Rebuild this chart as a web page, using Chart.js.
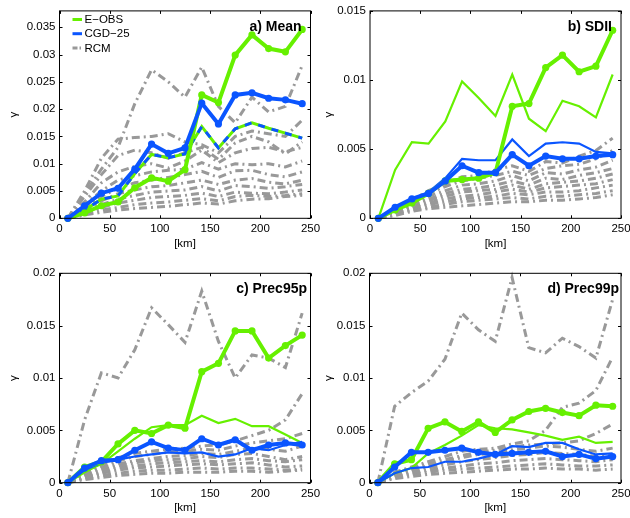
<!DOCTYPE html>
<html>
<head>
<meta charset="utf-8">
<script src="https://cdn.jsdelivr.net/npm/chart.js@4"></script>
<style>
html, body { margin: 0; padding: 0; background: #fff; overflow: hidden; width: 630px; height: 518px; }
canvas { position: absolute; }
</style>
</head>
<body>
<canvas id="chartMean" width="325" height="259" style="left:0;top:0"></canvas>
<canvas id="chartSdii" width="325" height="259" style="left:315px;top:0"></canvas>
<canvas id="chartP95" width="325" height="259" style="left:0;top:259px"></canvas>
<canvas id="chartP99" width="325" height="259" style="left:315px;top:259px"></canvas>
<script>
// distance bins [km]
const distKm = [8.3, 25, 41.7, 58.3, 75, 91.7, 108.3, 125, 141.7, 158.3, 175, 191.7, 208.3, 225, 241.7];
const xTicks = [0, 50, 100, 150, 200, 250];
const yTicksMean = [0, 0.005, 0.01, 0.015, 0.02, 0.025, 0.03, 0.035];
const yTicksSdii = [0, 0.005, 0.01, 0.015];
const yTicksPrec = [0, 0.005, 0.01, 0.015, 0.02];

// a) Mean
const meanEobs  = [0, 0.0010, 0.0023, 0.0030, 0.0056, 0.0074, 0.0068, 0.0089, 0.0226, 0.0212, 0.0299, 0.0336, 0.0311, 0.0305, 0.0346];
const meanCgd   = [0, 0.0023, 0.0046, 0.0055, 0.0090, 0.0136, 0.0119, 0.0129, 0.0211, 0.0173, 0.0226, 0.0230, 0.0220, 0.0217, 0.0210];
const meanMixed = [0, 0.0015, 0.0035, 0.0041, 0.0082, 0.0117, 0.0111, 0.0118, 0.0168, 0.0129, 0.0164, 0.0175, 0.0165, 0.0156, 0.0147];
const rcmMean = [
  [0, 0.0045, 0.0090, 0.0130, 0.0210, 0.0272, 0.0250, 0.0222, 0.0277, 0.0205, 0.0175, 0.0222, 0.0195, 0.0205, 0.0280],
  [0, 0.0050, 0.0110, 0.0145, 0.0148, 0.0150, 0.0155, 0.0140, 0.0135, 0.0120, 0.0150, 0.0160, 0.0155, 0.0150, 0.0180],
  [0, 0.0040, 0.0080, 0.0115, 0.0125, 0.0120, 0.0110, 0.0120, 0.0130, 0.0108, 0.0138, 0.0150, 0.0140, 0.0118, 0.0140],
  [0, 0.0030, 0.0065, 0.0085, 0.0095, 0.0100, 0.0092, 0.0105, 0.0125, 0.0102, 0.0120, 0.0128, 0.0130, 0.0122, 0.0130],
  [0, 0.0025, 0.0050, 0.0070, 0.0078, 0.0085, 0.0088, 0.0090, 0.0102, 0.0090, 0.0100, 0.0098, 0.0100, 0.0094, 0.0105],
  [0, 0.0020, 0.0040, 0.0055, 0.0065, 0.0070, 0.0075, 0.0080, 0.0086, 0.0075, 0.0087, 0.0088, 0.0080, 0.0076, 0.0085],
  [0, 0.0015, 0.0032, 0.0045, 0.0052, 0.0058, 0.0060, 0.0065, 0.0070, 0.0062, 0.0070, 0.0073, 0.0066, 0.0063, 0.0070],
  [0, 0.0012, 0.0025, 0.0035, 0.0042, 0.0048, 0.0050, 0.0052, 0.0058, 0.0050, 0.0060, 0.0058, 0.0055, 0.0058, 0.0062],
  [0, 0.0010, 0.0020, 0.0028, 0.0033, 0.0038, 0.0040, 0.0042, 0.0046, 0.0040, 0.0048, 0.0046, 0.0045, 0.0048, 0.0052],
  [0, 0.0008, 0.0015, 0.0020, 0.0025, 0.0028, 0.0030, 0.0033, 0.0036, 0.0032, 0.0040, 0.0042, 0.0040, 0.0042, 0.0045],
  [0, 0.0006, 0.0011, 0.0015, 0.0018, 0.0020, 0.0022, 0.0025, 0.0028, 0.0026, 0.0032, 0.0035, 0.0036, 0.0040, 0.0042]
];

// b) SDII
const sdiiEobs     = [0, 0.0006, 0.0011, 0.0018, 0.0027, 0.0028, 0.0029, 0.0033, 0.0081, 0.0083, 0.0109, 0.0118, 0.0106, 0.0110, 0.0136];
const sdiiEobsThin = [0, 0.0035, 0.0055, 0.0054, 0.0070, 0.0099, 0.0087, 0.0074, 0.0104, 0.0072, 0.0063, 0.0085, 0.0081, 0.0073, 0.0104];
const sdiiCgd      = [0, 0.0008, 0.0014, 0.0018, 0.0027, 0.0038, 0.0033, 0.0033, 0.0046, 0.0038, 0.0045, 0.0043, 0.0043, 0.0045, 0.0046];
const sdiiCgdThin  = [0, 0.0008, 0.0014, 0.0019, 0.0029, 0.0043, 0.0042, 0.0042, 0.0057, 0.0045, 0.0054, 0.0055, 0.0054, 0.0048, 0.0047];
const rcmSdii = [
  [0, 0.0006, 0.0013, 0.0020, 0.0025, 0.0030, 0.0031, 0.0035, 0.0038, 0.0034, 0.0041, 0.0040, 0.0045, 0.0049, 0.0058],
  [0, 0.0006, 0.0012, 0.0018, 0.0023, 0.0027, 0.0029, 0.0031, 0.0034, 0.0031, 0.0036, 0.0038, 0.0039, 0.0043, 0.0049],
  [0, 0.0005, 0.0011, 0.0016, 0.0020, 0.0024, 0.0025, 0.0027, 0.0031, 0.0027, 0.0033, 0.0032, 0.0035, 0.0037, 0.0042],
  [0, 0.0005, 0.0010, 0.0014, 0.0018, 0.0021, 0.0022, 0.0024, 0.0027, 0.0024, 0.0029, 0.0028, 0.0031, 0.0033, 0.0036],
  [0, 0.0004, 0.0009, 0.0013, 0.0016, 0.0019, 0.0020, 0.0021, 0.0024, 0.0021, 0.0025, 0.0026, 0.0027, 0.0029, 0.0032],
  [0, 0.0004, 0.0008, 0.0011, 0.0014, 0.0016, 0.0017, 0.0019, 0.0021, 0.0019, 0.0022, 0.0023, 0.0024, 0.0025, 0.0028],
  [0, 0.0003, 0.0007, 0.0010, 0.0012, 0.0014, 0.0015, 0.0016, 0.0018, 0.0017, 0.0019, 0.0019, 0.0020, 0.0022, 0.0024],
  [0, 0.0003, 0.0006, 0.0008, 0.0010, 0.0012, 0.0013, 0.0014, 0.0015, 0.0014, 0.0016, 0.0016, 0.0017, 0.0018, 0.0020],
  [0, 0.0002, 0.0005, 0.0007, 0.0008, 0.0009, 0.0010, 0.0011, 0.0012, 0.0012, 0.0013, 0.0013, 0.0014, 0.0015, 0.0017]
];

// c) Prec95p
const p95Eobs     = [0, 0.0015, 0.0020, 0.0037, 0.0050, 0.0047, 0.0055, 0.0052, 0.0106, 0.0114, 0.0145, 0.0145, 0.0119, 0.0131, 0.0141];
const p95EobsThin = [0, 0.0010, 0.0018, 0.0030, 0.0042, 0.0053, 0.0055, 0.0055, 0.0064, 0.0057, 0.0061, 0.0054, 0.0054, 0.0046, 0.0038];
const p95Cgd      = [0, 0.0014, 0.0021, 0.0022, 0.0031, 0.0039, 0.0033, 0.0031, 0.0042, 0.0036, 0.0041, 0.0031, 0.0036, 0.0038, 0.0036];
const p95CgdThin  = [0, 0.0012, 0.0019, 0.0022, 0.0025, 0.0027, 0.0029, 0.0028, 0.0029, 0.0025, 0.0027, 0.0033, 0.0031, 0.0036, 0.0039];
const rcmP95 = [
  [0, 0.0060, 0.0105, 0.0100, 0.0127, 0.0167, 0.0151, 0.0134, 0.0183, 0.0135, 0.0100, 0.0122, 0.0119, 0.0110, 0.0162],
  [0, 0.0010, 0.0018, 0.0024, 0.0028, 0.0030, 0.0032, 0.0033, 0.0035, 0.0036, 0.0040, 0.0045, 0.0050, 0.0060, 0.0085],
  [0, 0.0009, 0.0016, 0.0021, 0.0025, 0.0027, 0.0029, 0.0030, 0.0032, 0.0031, 0.0035, 0.0038, 0.0040, 0.0042, 0.0047],
  [0, 0.0008, 0.0014, 0.0018, 0.0021, 0.0023, 0.0025, 0.0026, 0.0028, 0.0027, 0.0030, 0.0033, 0.0032, 0.0030, 0.0035],
  [0, 0.0007, 0.0012, 0.0016, 0.0019, 0.0021, 0.0022, 0.0023, 0.0025, 0.0024, 0.0027, 0.0028, 0.0025, 0.0022, 0.0025],
  [0, 0.0006, 0.0010, 0.0014, 0.0016, 0.0018, 0.0019, 0.0020, 0.0021, 0.0020, 0.0022, 0.0023, 0.0021, 0.0020, 0.0022],
  [0, 0.0005, 0.0009, 0.0012, 0.0014, 0.0015, 0.0016, 0.0017, 0.0018, 0.0017, 0.0018, 0.0019, 0.0017, 0.0015, 0.0016],
  [0, 0.0004, 0.0007, 0.0009, 0.0011, 0.0012, 0.0012, 0.0013, 0.0014, 0.0013, 0.0014, 0.0014, 0.0013, 0.0012, 0.0013],
  [0, 0.0003, 0.0005, 0.0007, 0.0008, 0.0009, 0.0009, 0.0010, 0.0010, 0.0010, 0.0011, 0.0011, 0.0010, 0.0011, 0.0012]
];

// d) Prec99p
const p99Eobs     = [0, 0.0018, 0.0022, 0.0052, 0.0058, 0.0049, 0.0058, 0.0048, 0.0060, 0.0068, 0.0071, 0.0067, 0.0064, 0.0074, 0.0073];
const p99EobsThin = [0, 0.0009, 0.0014, 0.0028, 0.0036, 0.0045, 0.0055, 0.0052, 0.0051, 0.0048, 0.0045, 0.0041, 0.0044, 0.0038, 0.0039];
const p99Cgd      = [0, 0.0015, 0.0029, 0.0029, 0.0031, 0.0033, 0.0029, 0.0027, 0.0028, 0.0029, 0.0030, 0.0025, 0.0027, 0.0023, 0.0025];
const p99CgdThin  = [0, 0.0009, 0.0014, 0.0015, 0.0020, 0.0020, 0.0023, 0.0027, 0.0035, 0.0034, 0.0038, 0.0038, 0.0032, 0.0027, 0.0028];
const rcmP99 = [
  [0, 0.0073, 0.0086, 0.0097, 0.0118, 0.0162, 0.0146, 0.0135, 0.0196, 0.0129, 0.0124, 0.0138, 0.0130, 0.0119, 0.0175],
  [0, 0.0010, 0.0015, 0.0020, 0.0025, 0.0030, 0.0032, 0.0033, 0.0037, 0.0040, 0.0050, 0.0072, 0.0076, 0.0088, 0.0120],
  [0, 0.0009, 0.0014, 0.0018, 0.0022, 0.0026, 0.0029, 0.0031, 0.0034, 0.0036, 0.0037, 0.0038, 0.0040, 0.0047, 0.0056],
  [0, 0.0008, 0.0013, 0.0016, 0.0020, 0.0024, 0.0027, 0.0028, 0.0031, 0.0033, 0.0035, 0.0034, 0.0032, 0.0030, 0.0033],
  [0, 0.0007, 0.0011, 0.0014, 0.0017, 0.0020, 0.0022, 0.0024, 0.0026, 0.0027, 0.0029, 0.0028, 0.0027, 0.0025, 0.0027],
  [0, 0.0006, 0.0009, 0.0012, 0.0014, 0.0016, 0.0018, 0.0019, 0.0021, 0.0022, 0.0023, 0.0022, 0.0021, 0.0020, 0.0022],
  [0, 0.0005, 0.0008, 0.0010, 0.0012, 0.0013, 0.0014, 0.0015, 0.0016, 0.0017, 0.0018, 0.0017, 0.0016, 0.0016, 0.0017],
  [0, 0.0004, 0.0006, 0.0008, 0.0009, 0.0010, 0.0011, 0.0012, 0.0013, 0.0013, 0.0014, 0.0013, 0.0013, 0.0012, 0.0013]
];

const green = '#66f000';
const blue = '#0a55ff';
const gray = '#999999';
const fontFam = '"Liberation Sans", Arial, Helvetica, sans-serif';

Chart.defaults.font.family = fontFam;
Chart.defaults.font.size = 11.5;
Chart.defaults.color = '#000';
Chart.defaults.animation = false;

function pts(vals) {
  return vals.map((v, i) => ({ x: distKm[i], y: v }));
}

function thick(vals, color) {
  return { data: pts(vals), borderColor: color, backgroundColor: color, borderWidth: 4,
           pointRadius: 3.6, pointBorderWidth: 0, pointBackgroundColor: color, order: color === blue ? 1 : 2 };
}

function thin(vals, color) {
  return { data: pts(vals), borderColor: color, borderWidth: 2.2, pointRadius: 0, order: 5 };
}

function rcm(rows) {
  return rows.map(r => ({ data: pts(r), borderColor: gray, borderWidth: 3, borderDash: [8, 4, 2, 4],
                          pointRadius: 0, order: 10 }));
}

// box, inner ticks, panel label and legend
const decoPlugin = {
  id: 'deco',
  afterDraw(chart, args, opts) {
    const { ctx, chartArea: a, scales: { x, y } } = chart;
    ctx.save();
    ctx.strokeStyle = '#000';
    ctx.lineWidth = 1;
    ctx.setLineDash([]);
    ctx.strokeRect(a.left, a.top, a.width, a.height);
    ctx.beginPath();
    x.ticks.forEach(t => {
      const px = Math.round(x.getPixelForValue(t.value)) + 0.5;
      ctx.moveTo(px, a.bottom); ctx.lineTo(px, a.bottom - 3);
      ctx.moveTo(px, a.top); ctx.lineTo(px, a.top + 3);
    });
    y.ticks.forEach(t => {
      const py = Math.round(y.getPixelForValue(t.value)) + 0.5;
      ctx.moveTo(a.left, py); ctx.lineTo(a.left + 3, py);
      ctx.moveTo(a.right, py); ctx.lineTo(a.right - 3, py);
    });
    ctx.stroke();

    ctx.font = 'bold 14px ' + fontFam;
    ctx.fillStyle = '#000';
    ctx.textAlign = 'right';
    ctx.textBaseline = 'alphabetic';
    ctx.fillText(opts.label, a.right - opts.dx, a.top + 20);

    if (opts.legend) {
      const rows = [['E\u2212OBS', green, []], ['CGD\u221225', blue, []], ['RCM', gray, [5, 2, 1.5, 2]]];
      ctx.font = '11.5px ' + fontFam;
      ctx.textAlign = 'left';
      ctx.textBaseline = 'middle';
      rows.forEach((r, i) => {
        const yy = 19.5 + i * 14.2;
        ctx.beginPath();
        ctx.strokeStyle = r[1];
        ctx.lineWidth = 3;
        ctx.setLineDash(r[2]);
        ctx.moveTo(72.5, yy); ctx.lineTo(82, yy);
        ctx.stroke();
        ctx.fillText(r[0], 84.5, yy + 0.5);
      });
    }
    ctx.restore();
  }
};

function makePanel(id, datasets, yMax, yTicks, lay) {
  new Chart(document.getElementById(id), {
    type: 'line',
    data: { datasets: datasets.map(d => Object.assign({ tension: 0, fill: false, clip: false }, d)) },
    plugins: [decoPlugin],
    options: {
      responsive: false,
      layout: { padding: { left: 0, top: lay.top, right: lay.right, bottom: 0 } },
      plugins: { legend: { display: false }, tooltip: { enabled: false },
                 deco: { label: lay.label, dx: lay.dx, legend: !!lay.legend } },
      scales: {
        x: {
          type: 'linear', min: 0, max: 250,
          grid: { display: false, drawTicks: false },
          border: { display: false },
          afterBuildTicks: s => { s.ticks = xTicks.map(v => ({ value: v })); },
          afterFit: s => { s.height = lay.xh; },
          ticks: { padding: 4, maxRotation: 0, callback: v => String(v) },
          title: { display: true, text: '[km]', padding: { top: 0, bottom: lay.kmPad } }
        },
        y: {
          type: 'linear', min: 0, max: yMax,
          grid: { display: false, drawTicks: false },
          border: { display: false },
          afterBuildTicks: s => { s.ticks = yTicks.map(v => ({ value: v })); },
          afterFit: s => { s.width = lay.yw; },
          ticks: { padding: 4, callback: v => String(+v.toFixed(4)) },
          title: { display: true, text: '\u03b3', padding: { top: 7, bottom: 0 } }
        }
      }
    }
  });
}

makePanel('chartMean',
  [thick(meanCgd, blue), thick(meanEobs, green),
   { data: pts(meanMixed), borderColor: blue, borderWidth: 3, borderDash: [7, 7], pointRadius: 0, order: 3 },
   { data: pts(meanMixed), borderColor: green, borderWidth: 3, pointRadius: 0, order: 4 }]
    .concat(rcm(rcmMean)),
  0.038, yTicksMean,
  { top: 9.7, right: 14.5, yw: 59.5, xh: 40.7, kmPad: 8.5, label: 'a) Mean', dx: 9, legend: true });

makePanel('chartSdii',
  [thick(sdiiCgd, blue), thick(sdiiEobs, green), thin(sdiiCgdThin, blue), thin(sdiiEobsThin, green)]
    .concat(rcm(rcmSdii)),
  0.015, yTicksSdii,
  { top: 9.7, right: 19, yw: 55, xh: 40.7, kmPad: 8.5, label: 'b) SDII', dx: 9 });

makePanel('chartP95',
  [thick(p95Cgd, blue), thick(p95Eobs, green), thin(p95CgdThin, blue), thin(p95EobsThin, green)]
    .concat(rcm(rcmP95)),
  0.02, yTicksPrec,
  { top: 14.3, right: 14.5, yw: 59.5, xh: 35.3, kmPad: 3.1, label: 'c) Prec95p', dx: 3.5 });

makePanel('chartP99',
  [thick(p99Cgd, blue), thick(p99Eobs, green), thin(p99CgdThin, blue), thin(p99EobsThin, green)]
    .concat(rcm(rcmP99)),
  0.02, yTicksPrec,
  { top: 14.3, right: 19, yw: 54.5, xh: 35.3, kmPad: 3.1, label: 'd) Prec99p', dx: 2 });
</script>
</body>
</html>
